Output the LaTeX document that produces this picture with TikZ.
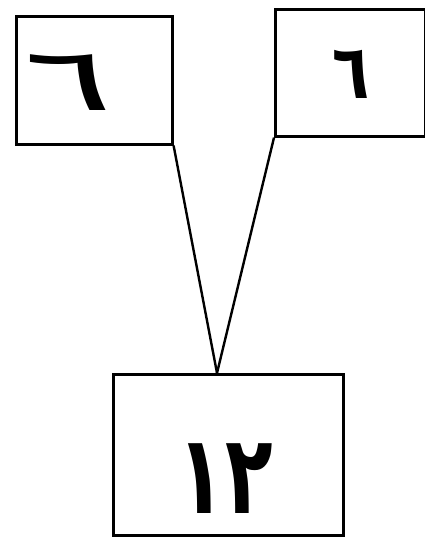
\documentclass[tikz,border=0pt]{standalone}
\usepackage{fontspec}
\newfontfamily\arabicfont[Script=Arabic]{DejaVu Sans}
\TeXXeTstate=1
\begin{document}
\begin{tikzpicture}[x=1pt,y=-1pt,
  box/.style={draw,line width=2.6pt,inner sep=0pt,anchor=north west},
  lnk/.style={line width=2.4pt},
  dig/.style={inner sep=0pt}]
\useasboundingbox (0,0) rectangle (425,540);
\node[box,minimum width=156pt,minimum height=128pt] (L) at (15,15) {};
\node[box,minimum width=150pt,minimum height=127pt] (R) at (274,8) {};
\node[box,minimum width=230pt,minimum height=161pt] (B) at (112,373) {};
\coordinate (apex) at (217,373);
\node[dig,font=\arabicfont\fontsize{88}{96}\selectfont,xscale=1.9] (tL) at ([xshift=-26pt,yshift=-2pt]L.center) {\beginR ٦\endR};
\node[dig,font=\arabicfont\bfseries\fontsize{76}{84}\selectfont,xscale=0.8] (tR) at ([xshift=1pt,yshift=-2pt]R.center) {\beginR ٦\endR};
\node[dig,font=\arabicfont\bfseries\fontsize{100}{108}\selectfont,xscale=0.78,yscale=1.1] (tB) at ([xshift=-3pt,yshift=-24pt]B.center) {\beginR ١٢\endR};
\draw[lnk] (L.south east) -- (apex);
\draw[lnk] (R.south west) -- (apex);
\end{tikzpicture}
\end{document}
